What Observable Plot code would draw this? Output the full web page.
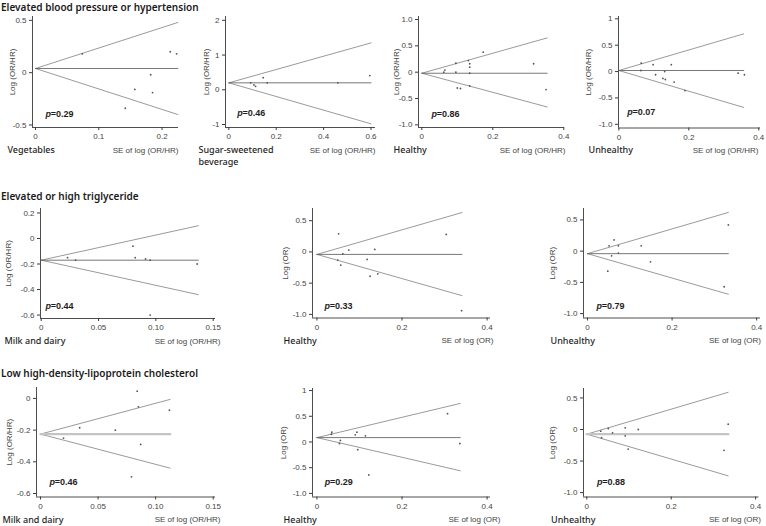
<!DOCTYPE html>
<html>
<head>
<meta charset="utf-8">
<script src="https://cdn.jsdelivr.net/npm/d3@7"></script>
<script src="https://cdn.jsdelivr.net/npm/@observablehq/plot@0.6"></script>
<style>
  html, body { margin: 0; padding: 0; background: #fff; }
  #root { position: relative; width: 766px; height: 526px; overflow: hidden; background: #fff; }
  .title { position: absolute; left: 1px; font-family: "Noto Sans", sans-serif; font-size: 10px; font-weight: 600; line-height: 1; color: #1a1a1a; white-space: nowrap; }
  #root svg { position: absolute; }
</style>
</head>
<body>
<div id="root"></div>
<script>
// ---------- Row titles ----------
const rowTitles = ["Elevated blood pressure or hypertension", "Elevated or high triglyceride", "Low high-density-lipoprotein cholesterol"];

// ---------- Panel labels ----------
const categories = ["Vegetables", "Sugar-sweetened", "Healthy", "Unhealthy", "Milk and dairy", "Healthy", "Unhealthy", "Milk and dairy", "Healthy", "Unhealthy"];
const categoryLine2 = ["", "beverage", "", "", "", "", "", "", "", ""];
const pValues = ["0.29", "0.46", "0.86", "0.07", "0.44", "0.33", "0.79", "0.46", "0.29", "0.88"];
const yTitles = ["Log (OR/HR)", "Log (OR/HR)", "Log (OR/HR)", "Log (OR/HR)", "Log (OR/HR)", "Log (OR)", "Log (OR)", "Log (OR/HR)", "Log (OR)", "Log (OR)"];
const xTitles = ["SE of log (OR/HR)", "SE of log (OR/HR)", "SE of log (OR/HR)", "SE of log (OR/HR)", "SE of log (OR/HR)", "SE of log (OR)", "SE of log (OR)", "SE of log (OR/HR)", "SE of log (OR)", "SE of log (OR)"];

// ---------- Study points: SE of log and log (OR/HR) ----------
const p1SE  = [0.074, 0.142, 0.157, 0.182, 0.185, 0.213, 0.223];
const p1Log = [0.18, -0.34, -0.16, -0.02, -0.19, 0.20, 0.18];
const p2SE  = [0.092, 0.106, 0.113, 0.145, 0.162, 0.46, 0.595];
const p2Log = [0.20, 0.14, 0.10, 0.35, 0.20, 0.20, 0.41];
const p3SE  = [0.062, 0.065, 0.096, 0.096, 0.100, 0.109, 0.131, 0.135, 0.135, 0.135, 0.135, 0.173, 0.315, 0.350];
const p3Log = [0.00, 0.04, 0.17, 0.00, -0.30, -0.31, 0.22, 0.16, 0.095, -0.02, -0.26, 0.38, 0.16, -0.33];
const p4SE  = [0.064, 0.063, 0.098, 0.105, 0.126, 0.133, 0.131, 0.150, 0.158, 0.189, 0.341, 0.359];
const p4Log = [0.16, 0.02, 0.13, -0.06, -0.13, -0.15, 0.00, 0.13, -0.20, -0.36, -0.03, -0.06];
const p5SE  = [0.023, 0.030, 0.080, 0.082, 0.091, 0.095, 0.095, 0.136];
const p5Log = [-0.15, -0.17, -0.06, -0.15, -0.16, -0.17, -0.60, -0.20];
const p6SE  = [0.051, 0.049, 0.056, 0.061, 0.075, 0.118, 0.136, 0.125, 0.143, 0.304, 0.340];
const p6Log = [0.29, -0.13, -0.21, -0.03, 0.03, -0.12, 0.04, -0.39, -0.35, 0.28, -0.94];
const p7SE  = [0.048, 0.051, 0.057, 0.063, 0.073, 0.073, 0.127, 0.149, 0.323, 0.333];
const p7Log = [-0.32, 0.085, -0.075, 0.18, 0.085, -0.03, 0.085, -0.17, -0.57, 0.42];
const p8SE  = [0.020, 0.034, 0.065, 0.079, 0.084, 0.085, 0.087, 0.112];
const p8Log = [-0.25, -0.185, -0.20, -0.495, 0.046, -0.053, -0.29, -0.074];
const p9SE  = [0.034, 0.035, 0.053, 0.055, 0.090, 0.094, 0.096, 0.114, 0.122, 0.307, 0.336];
const p9Log = [0.15, 0.19, -0.03, 0.03, 0.14, 0.19, -0.15, 0.12, -0.64, 0.55, -0.03];
const p10SE  = [0.033, 0.035, 0.051, 0.061, 0.091, 0.091, 0.098, 0.122, 0.325, 0.335];
const p10Log = [-0.026, -0.13, 0.016, -0.053, 0.026, -0.10, -0.31, 0.00, -0.33, 0.085];

// ---------- Funnels: [pooled estimate, max SE, upper limit at max SE, lower limit at max SE] ----------
const funnels = [
  [0.04, 0.225, 0.48, -0.40],
  [0.20, 0.60, 1.35, -0.98],
  [-0.02, 0.353, 0.65, -0.66],
  [0.02, 0.357, 0.715, -0.68],
  [-0.17, 0.137, 0.10, -0.44],
  [-0.04, 0.341, 0.63, -0.70],
  [-0.04, 0.333, 0.62, -0.69],
  [-0.225, 0.1126, -0.006, -0.44],
  [0.085, 0.337, 0.75, -0.56],
  [-0.074, 0.335, 0.59, -0.735]
];

// ---------- Tick values and labels ----------
const xTicksA = [0, 0.1, 0.2];            const xLabelsA = ["0", "0.1", "0.2"];
const xTicksB = [0, 0.2, 0.4, 0.6];       const xLabelsB = ["0", "0.2", "0.4", "0.6"];
const xTicksC = [0, 0.2, 0.4];            const xLabelsC = ["0", "0.2", "0.4"];
const xTicksD = [0, 0.05, 0.10, 0.15];    const xLabelsD = ["0", "0.05", "0.10", "0.15"];
const yTicks1 = [0.5, 0, -0.5];           const yLabels1 = ["0.5", "0", "-0.5"];
const yTicks2 = [2, 1, 0, -1];            const yLabels2 = ["2", "1", "0", "-1"];
const yTicks3 = [1, 0.5, 0, -0.5, -1];    const yLabels3 = ["1.0", "0.5", "0", "-0.5", "-1.0"];
const yTicks4 = [1, 0.5, 0, -0.5, -1];    const yLabels4 = ["1", "0.5", "0", "-0.5", "-1.0"];
const yTicks5 = [0.2, 0, -0.2, -0.4, -0.6]; const yLabels5 = ["0.2", "0", "-0.2", "-0.4", "-0.6"];
const yTicks6 = [0.5, 0, -0.5, -1];       const yLabels6 = ["0.5", "0", "-0.5", "-1.0"];
const yTicks8 = [0, -0.2, -0.4, -0.6];    const yLabels8 = ["0", "-0.2", "-0.4", "-0.6"];

const points = [[p1SE, p1Log], [p2SE, p2Log], [p3SE, p3Log], [p4SE, p4Log], [p5SE, p5Log],
                [p6SE, p6Log], [p7SE, p7Log], [p8SE, p8Log], [p9SE, p9Log], [p10SE, p10Log]];
const xTickSets = [[xTicksA, xLabelsA], [xTicksB, xLabelsB], [xTicksC, xLabelsC], [xTicksC, xLabelsC], [xTicksD, xLabelsD],
                   [xTicksC, xLabelsC], [xTicksC, xLabelsC], [xTicksD, xLabelsD], [xTicksC, xLabelsC], [xTicksC, xLabelsC]];
const yTickSets = [[yTicks1, yLabels1], [yTicks2, yLabels2], [yTicks3, yLabels3], [yTicks4, yLabels4], [yTicks5, yLabels5],
                   [yTicks6, yLabels6], [yTicks6, yLabels6], [yTicks8, yLabels8], [yTicks4, yLabels4], [yTicks6, yLabels6]];

// ---------- Layout (page pixels) : frame [left, right, top, bottom], scale domains, label positions ----------
const layout = [
  {frame: [32, 178, 16, 127],     xd: [-0.0047, 0.226], yd: [-0.524, 0.537], cat: [7, 152.3],  se: [178, 152.3], p: [45, 116],    yl: -20},
  {frame: [225, 375, 16, 127],    xd: [-0.014, 0.619],  yd: [-1.086, 2.11],  cat: [198, 152.3], cat2: 164.5, se: [375, 152.3], p: [236.7, 115.7], yl: -19},
  {frame: [418, 564, 16, 127],    xd: [-0.0093, 0.402], yd: [-1.05, 1.057],  cat: [393, 152.3], se: [565, 152.3], p: [431, 116.3], yl: -22},
  {frame: [618, 760, 16, 127.5],  xd: [-0.001, 0.405],  yd: [-1.07, 1.044],  cat: [588, 152.3], se: [758, 152.3], p: [626.7, 114], yl: -29.7},
  {frame: [40, 215, 207.5, 317.5],  xd: [-0.0006, 0.152], yd: [-0.627, 0.235], cat: [4, 343],   se: [220, 342.5], p: [45, 308],   yl: -31.7},
  {frame: [312, 490, 208, 317.5],   xd: [-0.0104, 0.408], yd: [-1.058, 0.695], cat: [283, 343], se: [493, 342.5], p: [324, 308],  yl: -27.3},
  {frame: [583, 760, 208, 317.5],   xd: [-0.0094, 0.409], yd: [-1.07, 0.683],  cat: [550, 343], se: [760.5, 342.5], p: [596, 308], yl: -31.3},
  {frame: [36, 215, 387, 496.5],    xd: [-0.0035, 0.152], yd: [-0.622, 0.069], cat: [2, 522],   se: [220, 521.5], p: [49, 484.7],  yl: -27.2},
  {frame: [312, 490, 388, 496.5],   xd: [-0.0104, 0.408], yd: [-1.07, 1.04],   cat: [283, 522], se: [500, 521.5], p: [324.3, 484.3], yl: -29.3},
  {frame: [582.5, 758, 388, 496.5], xd: [-0.0078, 0.408], yd: [-1.07, 0.65],   cat: [550, 522], se: [760, 521.5], p: [596, 484.7], yl: -31}
];
const lightCenter = [false, false, false, false, false, false, false, true, false, true];
const titleBaselines = [10.8, 200, 377.3];

const root = document.getElementById("root");

rowTitles.forEach((t, i) => {
  const d = document.createElement("div");
  d.className = "title";
  d.textContent = t;
  d.style.top = (titleBaselines[i] - 8.88) + "px";
  root.appendChild(d);
});

const AX = "#3a3a3a";
const LBL = "#1e1e1e";

layout.forEach((L, i) => {
  const [FL, FR, FT, FB] = L.frame;
  const mL = 45, mR = 12, mT = 8, mB = 40;
  const width = FR - FL + mL + mR, height = FB - FT + mT + mB;
  const [se, lg] = points[i];
  const data = se.map((s, k) => ({se: s, est: lg[k]}));
  const [c, sMax, up, lo] = funnels[i];
  const [xT, xLab] = xTickSets[i];
  const [yT, yLab] = yTickSets[i];
  const sans = "Liberation Sans, Arial, sans-serif";
  const noto = "Noto Sans, sans-serif";
  const marks = [
    Plot.ruleX([L.xd[0]], {stroke: AX, strokeWidth: 0.9}),
    Plot.ruleY([L.yd[0]], {stroke: AX, strokeWidth: 0.9}),
    Plot.axisX({ticks: xT, tickFormat: d => xLab[xT.indexOf(d)], tickSize: 3, tickPadding: 3, label: null, stroke: AX, fill: "#444", fontSize: 8}),
    Plot.axisY({ticks: yT, tickFormat: d => yLab[yT.indexOf(d)], tickSize: 3, tickPadding: 3, label: null, stroke: AX, fill: "#444", fontSize: 8}),
    Plot.line([{se: 0, v: c}, {se: sMax, v: up}], {x: "se", y: "v", stroke: "#808080", strokeWidth: 0.8}),
    Plot.line([{se: 0, v: c}, {se: sMax, v: lo}], {x: "se", y: "v", stroke: "#808080", strokeWidth: 0.8}),
    lightCenter[i]
      ? Plot.line([{se: 0, v: c}, {se: sMax, v: c}], {x: "se", y: "v", stroke: "#c4c4c4", strokeWidth: 2.4})
      : Plot.line([{se: 0, v: c}, {se: sMax, v: c}], {x: "se", y: "v", stroke: "#555", strokeWidth: 0.8}),
    Plot.dot(data, {x: "se", y: "est", r: 0.9, fill: "#555", stroke: null}),
    // y axis title
    Plot.text([yTitles[i]], {frameAnchor: "left", dx: L.yl, rotate: -90, textAnchor: "middle", lineAnchor: "middle", fontFamily: sans, fontSize: 8, fill: "#444"}),
    // x axis title
    Plot.text([xTitles[i]], {frameAnchor: "bottom-right", dx: L.se[0] - FR, dy: L.se[1] - FB, textAnchor: "end", lineAnchor: "bottom", fontFamily: sans, fontSize: 8, fill: "#444"}),
    // category label
    Plot.text([categories[i]], {frameAnchor: "bottom-left", dx: L.cat[0] - FL, dy: L.cat[1] - FB, textAnchor: "start", lineAnchor: "bottom", fontFamily: noto, fontSize: 9, fontWeight: 500, fill: LBL}),
    // p-value
    Plot.text(["p"], {frameAnchor: "bottom-left", dx: L.p[0] - FL, dy: L.p[1] - FB, textAnchor: "start", lineAnchor: "bottom", fontFamily: sans, fontSize: 9, fontWeight: "bold", fontStyle: "italic", fill: LBL}),
    Plot.text(["=" + pValues[i]], {frameAnchor: "bottom-left", dx: L.p[0] - FL + 5.3, dy: L.p[1] - FB, textAnchor: "start", lineAnchor: "bottom", fontFamily: sans, fontSize: 9, fontWeight: "bold", fill: LBL})
  ];
  if (categoryLine2[i]) {
    marks.push(Plot.text([categoryLine2[i]], {frameAnchor: "bottom-left", dx: L.cat[0] - FL, dy: L.cat2 - FB, textAnchor: "start", lineAnchor: "bottom", fontFamily: noto, fontSize: 9, fontWeight: 500, fill: LBL}));
  }
  const svg = Plot.plot({
    width, height,
    marginLeft: mL, marginRight: mR, marginTop: mT, marginBottom: mB,
    x: {domain: L.xd},
    y: {domain: L.yd},
    style: {background: "transparent", overflow: "visible", fontFamily: "Liberation Sans, Arial, sans-serif", fontSize: "8px", color: "#444"},
    marks
  });
  svg.style.position = "absolute";
  svg.style.left = (FL - mL) + "px";
  svg.style.top = (FT - mT) + "px";
  svg.style.maxWidth = "none";
  root.appendChild(svg);
});
</script>
</body>
</html>
